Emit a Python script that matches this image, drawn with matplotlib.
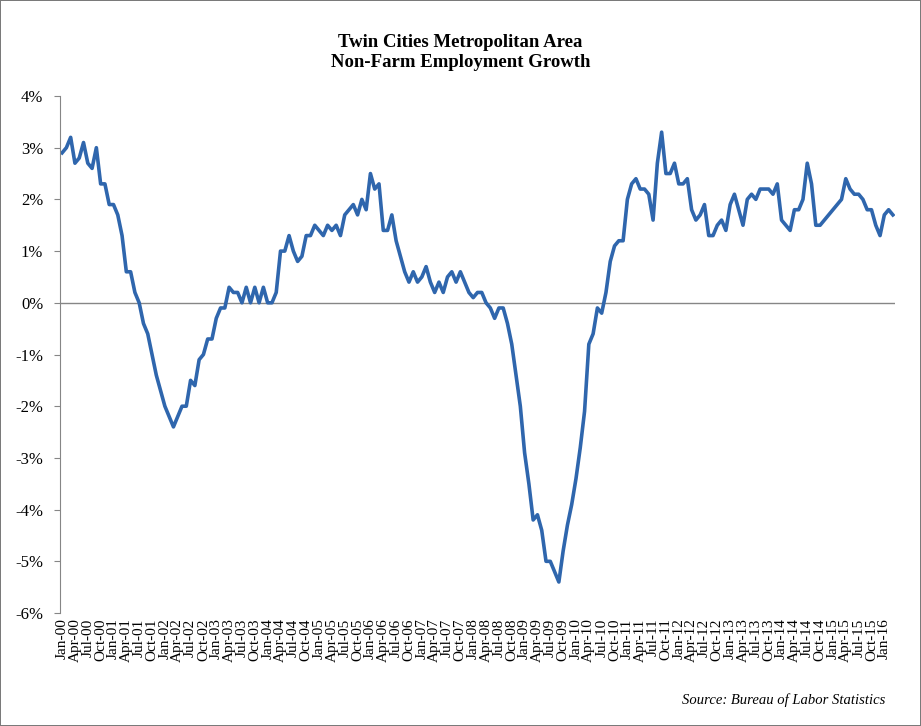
import matplotlib
matplotlib.use("Agg")
import matplotlib.pyplot as plt
import pandas as pd

# monthly non-farm employment growth, % change year over year (Jan-00 .. Mar-16)
g2000 = [2.9, 3.0, 3.2, 2.7, 2.8, 3.1, 2.7, 2.6, 3.0, 2.3, 2.3, 1.9]
g2001 = [1.9, 1.7, 1.3, 0.6, 0.6, 0.2, 0.0, -0.4, -0.6, -1.0, -1.4, -1.7]
g2002 = [-2.0, -2.2, -2.4, -2.2, -2.0, -2.0, -1.5, -1.6, -1.1, -1.0, -0.7, -0.7]
g2003 = [-0.3, -0.1, -0.1, 0.3, 0.2, 0.2, 0.0, 0.3, 0.0, 0.3, 0.0, 0.3]
g2004 = [0.0, 0.0, 0.2, 1.0, 1.0, 1.3, 1.0, 0.8, 0.9, 1.3, 1.3, 1.5]
g2005 = [1.4, 1.3, 1.5, 1.4, 1.5, 1.3, 1.7, 1.8, 1.9, 1.7, 2.0, 1.8]
g2006 = [2.5, 2.2, 2.3, 1.4, 1.4, 1.7, 1.2, 0.9, 0.6, 0.4, 0.6, 0.4]
g2007 = [0.5, 0.7, 0.4, 0.2, 0.4, 0.2, 0.5, 0.6, 0.4, 0.6, 0.4, 0.2]
g2008 = [0.1, 0.2, 0.2, 0.0, -0.1, -0.3, -0.1, -0.1, -0.4, -0.8, -1.4, -2.0]
g2009 = [-2.9, -3.5, -4.2, -4.1, -4.4, -5.0, -5.0, -5.2, -5.4, -4.8, -4.3, -3.9]
g2010 = [-3.4, -2.8, -2.1, -0.8, -0.6, -0.1, -0.2, 0.2, 0.8, 1.1, 1.2, 1.2]
g2011 = [2.0, 2.3, 2.4, 2.2, 2.2, 2.1, 1.6, 2.7, 3.3, 2.5, 2.5, 2.7]
g2012 = [2.3, 2.3, 2.4, 1.8, 1.6, 1.7, 1.9, 1.3, 1.3, 1.5, 1.6, 1.4]
g2013 = [1.9, 2.1, 1.8, 1.5, 2.0, 2.1, 2.0, 2.2, 2.2, 2.2, 2.1, 2.3]
g2014 = [1.6, 1.5, 1.4, 1.8, 1.8, 2.0, 2.7, 2.3, 1.5, 1.5, 1.6, 1.7]
g2015 = [1.8, 1.9, 2.0, 2.4, 2.2, 2.1, 2.1, 2.0, 1.8, 1.8, 1.5, 1.3]
g2016 = [1.7, 1.8, 1.7]

growth = (g2000 + g2001 + g2002 + g2003 + g2004 + g2005 + g2006 + g2007 + g2008
          + g2009 + g2010 + g2011 + g2012 + g2013 + g2014 + g2015 + g2016)

months = pd.date_range("2000-01-01", periods=len(growth), freq="MS")
month_labels = [m.strftime("%b-%y") for m in months]

plt.rcParams['font.family'] = ['Liberation Serif', 'DejaVu Serif']

fig = plt.figure(figsize=(9.21, 7.26), dpi=100)
fig.patch.set_edgecolor('#7a7a7a')
fig.patch.set_linewidth(1.2)
ax = fig.add_axes([0.0651, 0.1556, 0.9067, 0.7122])

x = list(range(len(growth)))
ax.plot(x, growth, color='#2F66AD', linewidth=2.6, solid_joinstyle='round')
ax.axhline(0, color='#868686', linewidth=1.0, zorder=0)

ax.set_xlim(-0.5, len(growth) - 0.5)
ax.set_ylim(-6, 4)
ax.set_yticks(range(-6, 5))
ax.set_yticklabels([f"{v}%" for v in range(-6, 5)], fontsize=12)
ax.set_xticks(x[::3])
ax.set_xticklabels(month_labels[::3], rotation=90, fontsize=11)
ax.tick_params(axis='x', length=0, pad=4)
ax.tick_params(axis='y', length=4, color='#868686', pad=8)

for side in ['top', 'right', 'bottom']:
    ax.spines[side].set_visible(False)
ax.spines['left'].set_color('#868686')

fig.text(0.5, 0.928, "Twin Cities Metropolitan Area\nNon-Farm Employment Growth",
         ha='center', va='center', fontsize=13.5, fontweight='bold', linespacing=1.2)
fig.text(0.961, 0.036, "Source: Bureau of Labor Statistics", ha='right', va='center',
         fontsize=10.5, style='italic')

fig.savefig("out.png", dpi=100)
